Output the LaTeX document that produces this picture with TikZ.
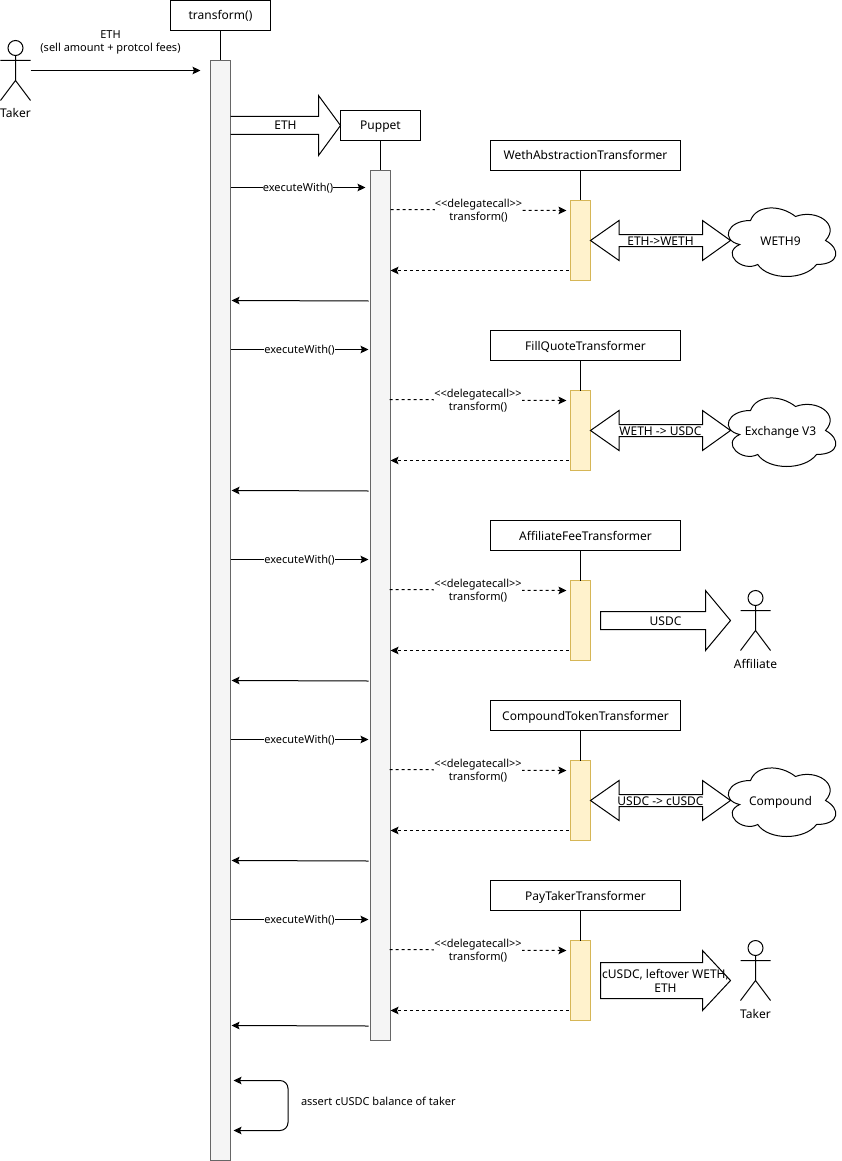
\documentclass[tikz,border=0pt]{standalone}
\usepackage{fontspec}
\setmainfont{Noto Sans}
\usetikzlibrary{calc}
\usetikzlibrary{arrows.meta}
\tikzset{
	actor/.pic={
		\draw (0,-7.5) circle (7.5);
		\draw (0,0) -- (0,25) (-15,5) -- (15,5) (-15,45) -- (0,25) -- (15,45);
	},
	cloudy/.pic={
		\draw (30,20) .. controls (6,20) and (0,40) .. (19.2,44)
			.. controls (0,52.8) and (21.6,72) .. (37.2,64)
			.. controls (48,80) and (84,80) .. (96,64)
			.. controls (120,64) and (120,48) .. (105,40)
			.. controls (120,24) and (96,8) .. (75,16)
			.. controls (60,4) and (36,4) .. (30,20) -- cycle;
	}
}
\begin{document}
\begin{tikzpicture}[x=1pt,y=-1pt,line width=1pt,line join=miter] %% tikz
	\tikzstyle{boxy}=[draw,fill=white,inner sep=0pt,outer sep=0pt,minimum height=30pt,text height=9pt,text depth=0pt,font=\fontsize{12}{14}\selectfont];
	\tikzstyle{greybar}=[draw=black!60,fill=black!4,inner sep=0pt,outer sep=0pt,minimum width=20pt];
	\tikzstyle{yellowbar}=[draw=yellowedge,fill=yellowfill,inner sep=0pt,outer sep=0pt,minimum width=20pt,minimum height=80pt];
	\tikzstyle{msg}=[fill=white,inner sep=0pt,align=center,yshift=-1pt,font=\fontsize{11}{13}\selectfont];
	\tikzstyle{txt}=[inner sep=0pt,text height=9pt,text depth=0pt,font=\fontsize{12}{14}\selectfont];
	\tikzstyle{tip}=[-{Stealth[inset=1.5pt,length=8pt,width=7.5pt]}];
	\definecolor{yellowedge}{HTML}{D6B656}
	\definecolor{yellowfill}{HTML}{FFF2CC}
	\useasboundingbox (-.5,-.5) rectangle (840.5,1160.5);
	%% lifelines
	\node[boxy,minimum width=100pt] (transform) at (220,15) {transform()};
	\node[greybar,minimum height=1100pt] (mainbar) at (220,610) {};
	\draw (transform) -- (mainbar);
	\node[boxy,minimum width=80pt] (puppet) at (380,125) {Puppet};
	\node[greybar,minimum height=870pt] (puppetbar) at (380,605) {};
	\draw (puppet) -- (puppetbar);
	%% taker
	\pic at (15,55) {actor};
	\node[txt] (takerlabel) at (15,113) {Taker};
	\coordinate (takerhand) at (30,70);
	\draw[tip] (takerhand) -- ([xshift=-10pt]mainbar.west |- takerhand);
	\node[msg,fill=none] (ethlabel) at (110,41) {ETH\\(sell amount + protcol fees)};
	%% eth to puppet
	\draw (mainbar.east |- 0,116) -- (318,116) -- (318,95) -- (puppet.west) -- (318,155) -- (318,134) -- (mainbar.east |- 0,134);
	\node[txt] (ethpass) at (285,125) {ETH};
	%% transformers
	\foreach \i/\lab/\yb/\yret/\yex/\xex/\xd in {1/WethAbstractionTransformer/200/300/187/5/0,
		2/FillQuoteTransformer/390/490/349/2/1,
		3/AffiliateFeeTransformer/580/680/559/2/1,
		4/CompoundTokenTransformer/760/860/739/2/1,
		5/PayTakerTransformer/940/1025/919/2/1} {
		\node[boxy,minimum width=190pt] (box\i) at (585,\yb-45) {\lab};
		\node[yellowbar] (bar\i) at (580,\yb+40) {};
		\draw (box\i.south -| bar\i) -- (bar\i);
		\draw[tip] (mainbar.east |- 0,\yex) -- node[msg,pos=.5]{executeWith()} ([xshift=-\xex pt]puppetbar.west |- 0,\yex);
		\draw[tip,dash pattern=on 3pt off 3pt] ([xshift=-\xd pt]puppetbar.east |- 0,\yb+9) -- node[msg,pos=.5]{{<}{<}delegatecall{>}{>}\\transform()} ([xshift=-4pt]bar\i.west |- 0,\yb+10);
		\draw[tip,dash pattern=on 3pt off 3pt] ([xshift=-2pt]bar\i.west |- 0,\yb+70) -- (puppetbar.east |- 0,\yb+70);
		\draw[tip] ([xshift=-2pt]puppetbar.west |- 0,\yret+.5) -- ([xshift=1pt]mainbar.east |- 0,\yret);
	}
	%% swaps
	\foreach \i/\yc/\lab/\cl in {1/240/ETH->WETH/WETH9, 2/430/WETH -> USDC/Exchange V3, 4/800/USDC -> cUSDC/Compound} {
		\draw (bar\i.east |- 0,\yc) -- (618.5,\yc-20) -- (618.5,\yc-6) -- (702,\yc-6) -- (702,\yc-20) -- (730,\yc) -- (702,\yc+20) -- (702,\yc+6) -- (618.5,\yc+6) -- (618.5,\yc+20) -- cycle;
		\node[txt] (swap\i) at (660,\yc) {\lab};
		\pic at (720,\yc-40) {cloudy};
		\node[txt] (cloud\i) at (780,\yc) {\cl};
	}
	%% payouts
	\draw (600,611) -- (705,611) -- (705,590) -- (730,620) -- (705,650) -- (705,629) -- (600,629) -- cycle;
	\node[txt] (usdc) at (665,620) {USDC};
	\pic at (755,605) {actor};
	\node[txt] (affiliate) at (755,663) {Affiliate};
	\draw (600,962) -- (702,962) -- (702,950) -- (730,980) -- (702,1010) -- (702,998) -- (600,998) -- cycle;
	\node[inner sep=0pt,align=center,font=\fontsize{12}{14}\selectfont] (payout) at (665,980.5) {cUSDC, leftover WETH,\\ETH};
	\pic at (755,955) {actor};
	\node[txt] (takertwo) at (755,1013) {Taker};
	%% self call
	\draw[{Stealth[inset=1.5pt,length=8pt,width=7.5pt]}-{Stealth[inset=1.5pt,length=8pt,width=7.5pt]},rounded corners=8pt] ([xshift=3pt]mainbar.east |- 0,1080) -- (287.5,1080) -- (287.5,1130) -- ([xshift=3pt]mainbar.east |- 0,1130);
	\node[msg,fill=none,anchor=west] (assert) at (300,1100) {assert cUSDC balance of taker};
\end{tikzpicture}
\end{document}
